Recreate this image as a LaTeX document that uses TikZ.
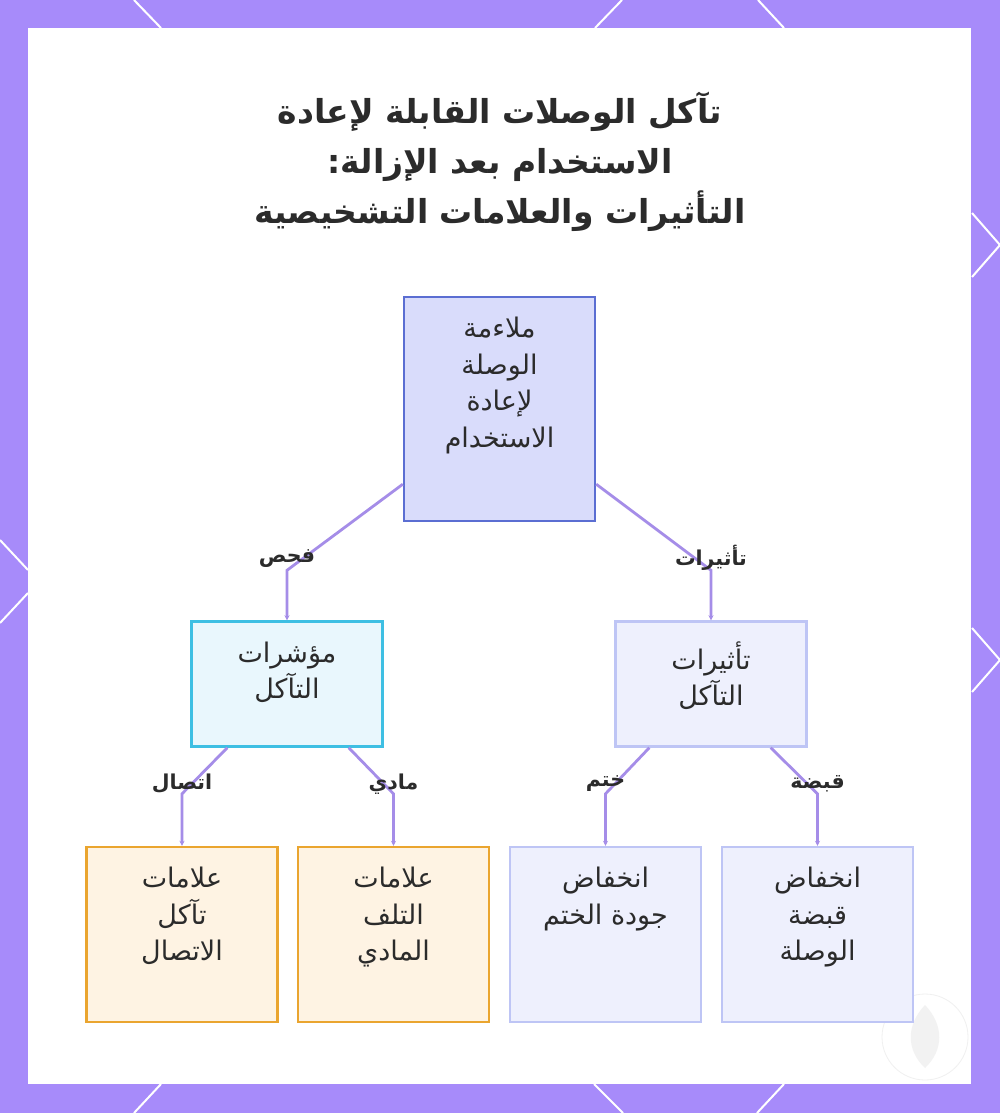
\documentclass[tikz,border=0pt]{standalone}
\usepackage{fontspec}
\usetikzlibrary{arrows.meta,calc,positioning}
\TeXXeTstate=1
\newfontfamily\arabicfont[Script=Arabic]{DejaVu Sans}
\newcommand\rl[1]{\beginR #1\endR}
\newcommand\cardtext[2]{\parbox[c][#1][t]{184pt}{\centering\vskip 20pt #2\par}}

\definecolor{frameviolet}{HTML}{A78BFA}
\definecolor{wireviolet}{HTML}{A58DE8}
\definecolor{rootfill}{HTML}{D9DCFB}
\definecolor{rootline}{HTML}{5B6ED2}
\definecolor{cyanfill}{HTML}{E9F7FD}
\definecolor{cyanline}{HTML}{3EBFE3}
\definecolor{lavfill}{HTML}{EEF0FD}
\definecolor{lavline}{HTML}{BEC5F5}
\definecolor{sandfill}{HTML}{FEF3E3}
\definecolor{sandline}{HTML}{EAA52F}
\definecolor{ink}{HTML}{2B2B2B}

\begin{document}
\begin{tikzpicture}[x=1pt,y=-1pt,
  card/.style={draw,line width=2.4pt,inner sep=0pt,minimum width=191pt,text=ink,
    font=\arabicfont\fontsize{27}{36.5}\selectfont},
  tagtext/.style={text=ink,inner sep=1pt,font=\arabicfont\bfseries\fontsize{20.5}{22}\selectfont},
  wire/.style={draw=wireviolet,line width=2.8pt},
  headed/.style={-{Stealth[length=5pt,width=5pt]}}]
\useasboundingbox (0,0) rectangle (1000,1113);

% frame with its white strokes
\fill[frameviolet] (0,0) rectangle (1000,1113);
\begin{scope}[white,line width=2pt]
\draw (134,0) -- (161,28);  \draw (622,0) -- (595,28);  \draw (758,0) -- (784,28);
\draw (161,1084) -- (134,1113); \draw (594,1084) -- (623,1113); \draw (784,1084) -- (757,1113);
\draw (0,540) -- (28,570);  \draw (28,593) -- (0,623);
\draw (972,213) -- (1000,245) -- (972,277);
\draw (972,628) -- (1000,660) -- (972,692);
\end{scope}
\fill[white] (28,28) rectangle (971,1084);

% faint mark
\draw[black!6,line width=0.8pt] (925,1037) circle (43pt);
\fill[black!5] (925,1005) .. controls (944,1025) and (944,1050) .. (925,1068)
  .. controls (906,1050) and (906,1025) .. (925,1005);

\node[font=\arabicfont\bfseries\fontsize{33}{50}\selectfont,text=ink,align=center] (title) at (500,162)
  {\rl{تآكل الوصلات القابلة لإعادة}\\\rl{الاستخدام بعد الإزالة:}\\\rl{التأثيرات والعلامات التشخيصية}};

% tree
\node[card,fill=rootfill,draw=rootline] (root) at (499.5,409)
  {\cardtext{224pt}{\rl{ملاءمة}\\\rl{الوصلة}\\\rl{لإعادة}\\\rl{الاستخدام}}};
\node[card,fill=cyanfill,draw=cyanline] (signs) at (287,684)
  {\cardtext{125pt}{\rl{مؤشرات}\\\rl{التآكل}}};
\node[card,fill=lavfill,draw=lavline] (effects) at (711,684)
  {\cardtext{125pt}{\rl{تأثيرات}\\\rl{التآكل}}};

\foreach \i/\x/\c/\txt in {1/182/sand/{\rl{علامات}\\\rl{تآكل}\\\rl{الاتصال}},
                          2/393.5/sand/{\rl{علامات}\\\rl{التلف}\\\rl{المادي}},
                          3/605.5/lav/{\rl{انخفاض}\\\rl{جودة الختم}},
                          4/817.5/lav/{\rl{انخفاض}\\\rl{قبضة}\\\rl{الوصلة}}}
  \node[card,fill=\c fill,draw=\c line] (b\i) at (\x,934.5) {\cardtext{175pt}{\txt}};

\draw[wire,headed] ([yshift=38pt]root.south west) -- ([yshift=50pt]signs.north) -- (signs.north);
\draw[wire,headed] ([yshift=38pt]root.south east) -- ([yshift=50pt]effects.north) -- (effects.north);
\node[tagtext] (t1) at ([yshift=62pt]signs.north) {\rl{فحص}};
\node[tagtext] (t2) at ([yshift=62pt]effects.north) {\rl{تأثيرات}};

\draw[wire,headed] ([xshift=37pt]signs.south west) -- ([yshift=52pt]b1.north) -- (b1.north);
\draw[wire,headed] ([xshift=-35pt]signs.south east) -- ([yshift=52pt]b2.north) -- (b2.north);
\draw[wire,headed] ([xshift=35pt]effects.south west) -- ([yshift=52pt]b3.north) -- (b3.north);
\draw[wire,headed] ([xshift=-37pt]effects.south east) -- ([yshift=52pt]b4.north) -- (b4.north);
\node[tagtext] (t3) at ([yshift=62pt]b1.north) {\rl{اتصال}};
\node[tagtext] (t4) at ([yshift=62pt]b2.north) {\rl{مادي}};
\node[tagtext] (t5) at ([yshift=62pt]b3.north) {\rl{ختم}};
\node[tagtext] (t6) at ([yshift=62pt]b4.north) {\rl{قبضة}};

\end{tikzpicture}
\end{document}
